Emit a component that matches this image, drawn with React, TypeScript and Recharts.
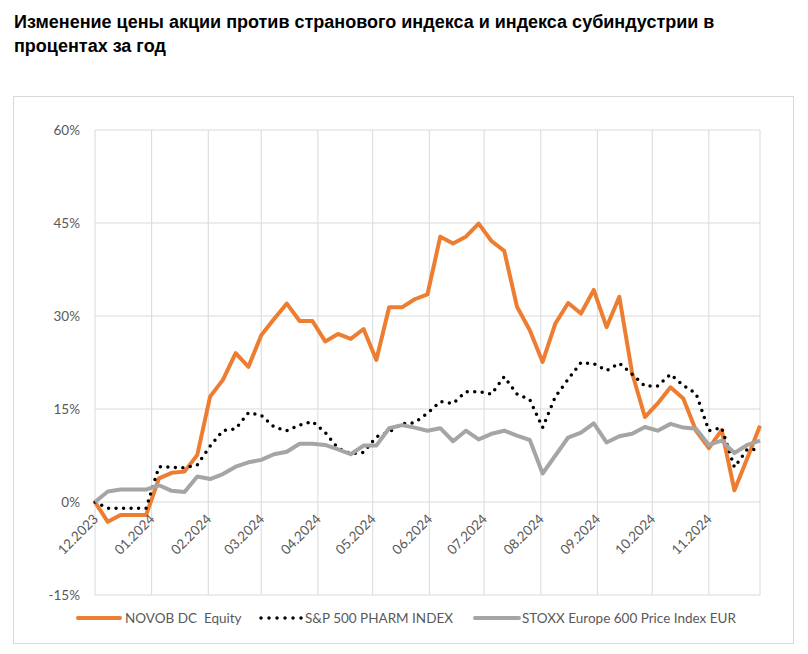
import React from "react";
import { LineChart, Line, XAxis, YAxis, CartesianGrid } from "recharts";

// day offsets from 01.12.2023 (weekly observations)
const days = [0, 7, 14, 21, 28, 35, 42, 49, 56, 63, 70, 77, 84, 91, 98, 105, 112, 119, 126, 133, 140, 147, 154, 161, 168, 175, 182, 189, 196, 203, 210, 217, 224, 231, 238, 245, 252, 259, 266, 273, 280, 287, 294, 301, 308, 315, 322, 329, 336, 343, 350, 357, 364];

const novo = [0, -3.2, -2.1, -2.1, -2.1, 3.8, 4.7, 4.9, 7.6, 17.0, 19.7, 24.0, 21.8, 26.9, 29.5, 32.0, 29.2, 29.2, 25.9, 27.1, 26.3, 27.9, 22.9, 31.4, 31.4, 32.7, 33.5, 42.8, 41.7, 42.8, 44.9, 42.1, 40.5, 31.5, 27.7, 22.6, 28.8, 32.1, 30.4, 34.2, 28.2, 33.1, 20.8, 13.7, 15.9, 18.5, 16.7, 11.5, 8.7, 11.6, 1.9, 7.0, 12.3];

const spPharm = [0, -1.0, -1.0, -1.0, -1.0, 5.7, 5.6, 5.5, 6.0, 9.0, 11.5, 11.8, 14.4, 14.0, 12.1, 11.5, 12.4, 13.0, 11.2, 8.7, 7.8, 8.0, 10.5, 11.3, 12.6, 12.8, 14.3, 16.2, 15.9, 17.8, 17.8, 17.4, 20.2, 17.4, 16.5, 12.0, 17.0, 19.8, 22.5, 22.3, 21.2, 22.4, 20.6, 18.7, 18.7, 20.6, 18.8, 17.5, 11.5, 12.0, 5.6, 8.5, 8.4];

const stoxx = [0, 1.7, 2.0, 2.0, 2.0, 2.7, 1.8, 1.6, 4.1, 3.7, 4.5, 5.7, 6.4, 6.8, 7.7, 8.1, 9.4, 9.4, 9.2, 8.5, 7.7, 9.1, 9.1, 11.9, 12.4, 12.0, 11.5, 11.9, 9.8, 11.5, 10.1, 11.0, 11.5, 10.7, 10.0, 4.6, 7.5, 10.4, 11.2, 12.7, 9.6, 10.6, 11.0, 12.1, 11.5, 12.6, 12.0, 11.8, 9.2, 9.9, 7.9, 9.2, 9.9];

const monthTickDays = [0, 31, 62, 91, 122, 152, 183, 213, 244, 275, 305, 336];
const monthTickLabels = ["12.2023", "01.2024", "02.2024", "03.2024", "04.2024", "05.2024", "06.2024", "07.2024", "08.2024", "09.2024", "10.2024", "11.2024"];

const yTicks = [-15, 0, 15, 30, 45, 60];

const seriesNames = ["NOVOB DC  Equity", "S&P 500 PHARM INDEX", "STOXX Europe 600 Price Index EUR"];

const data = days.map((d, i) => ({ day: d, novo: novo[i], sp: spPharm[i], stoxx: stoxx[i] }));

const FONT = "Lato, 'Open Sans', sans-serif";
const GRAY_TEXT = "#595959";

const XTick = (props: any) => {
  const { x, y, payload } = props;
  const idx = monthTickDays.indexOf(payload.value);
  const label = idx >= 0 ? monthTickLabels[idx] : "";
  const ax = x + 4;
  const ay = y - 75;
  return (
    <text x={ax} y={ay} textAnchor="end" fill={GRAY_TEXT} fontSize={13.5} fontFamily={FONT} transform={`rotate(-45, ${ax}, ${ay})`}>
      {label}
    </text>
  );
};

export default function App() {
  return (
    <div style={{ position: "absolute", left: 0, top: 0, width: 808, height: 654, background: "#fff", overflow: "hidden" }}>
      <div style={{ position: "absolute", left: 14, top: 10, fontFamily: "'Liberation Sans', Arial, sans-serif", fontWeight: 700, fontSize: 18, lineHeight: "24px", color: "#000", whiteSpace: "nowrap" }}>
        Изменение цены акции против странового индекса и индекса субиндустрии в<br />процентах за год
      </div>
      <div style={{ position: "absolute", left: 13, top: 96, width: 779, height: 546, border: "1px solid #d9d9d9", boxSizing: "content-box" }} />
      <div style={{ position: "absolute", left: 0, top: 0 }}>
        <LineChart width={808} height={654} data={data} margin={{ top: 130, right: 48, left: 0, bottom: 58 }}>
          <CartesianGrid stroke="#d9d9d9" strokeWidth={1} />
          <XAxis
            dataKey="day"
            type="number"
            domain={[0, 364]}
            ticks={monthTickDays}
            interval={0}
            height={1}
            axisLine={false}
            tickLine={false}
            tickSize={0}
            tickMargin={0}
            tick={<XTick />}
          />
          <YAxis
            type="number"
            domain={[-15, 60]}
            ticks={yTicks}
            interval={0}
            width={95}
            axisLine={false}
            tickLine={false}
            tickMargin={9}
            tick={{ fill: GRAY_TEXT, fontSize: 13.5, fontFamily: FONT }}
            tickFormatter={(v: number) => `${v}%`}
          />
          <Line dataKey="novo" stroke="#ED7D31" strokeWidth={4} dot={false} isAnimationActive={false} strokeLinejoin="round" />
          <Line dataKey="sp" stroke="#000000" strokeWidth={3.5} strokeDasharray="0 7.5" strokeLinecap="round" dot={false} isAnimationActive={false} />
          <Line dataKey="stoxx" stroke="#A5A5A5" strokeWidth={4} dot={false} isAnimationActive={false} strokeLinejoin="round" />
        </LineChart>
      </div>
      {/* legend */}
      <svg style={{ position: "absolute", left: 0, top: 608 }} width={808} height={20}>
        <line x1={78} y1={10} x2={120} y2={10} stroke="#ED7D31" strokeWidth={4} strokeLinecap="round" />
        <line x1={261} y1={10} x2={303} y2={10} stroke="#000" strokeWidth={3.5} strokeDasharray="0 8" strokeLinecap="round" />
        <line x1={475} y1={10} x2={519} y2={10} stroke="#A5A5A5" strokeWidth={4} strokeLinecap="round" />
      </svg>
      <div style={{ position: "absolute", left: 125, top: 609, fontFamily: FONT, fontSize: 13.5, color: GRAY_TEXT, whiteSpace: "pre", lineHeight: "18px" }}>{seriesNames[0]}</div>
      <div style={{ position: "absolute", left: 305, top: 609, fontFamily: FONT, fontSize: 13.5, color: GRAY_TEXT, whiteSpace: "pre", lineHeight: "18px" }}>{seriesNames[1]}</div>
      <div style={{ position: "absolute", left: 522, top: 609, fontFamily: FONT, fontSize: 13.5, color: GRAY_TEXT, whiteSpace: "pre", lineHeight: "18px" }}>{seriesNames[2]}</div>
    </div>
  );
}
